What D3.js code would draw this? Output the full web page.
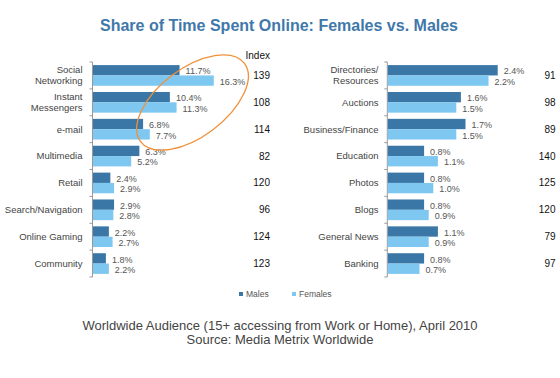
<!DOCTYPE html>
<html>
<head>
<meta charset="utf-8">
<script src="https://cdn.jsdelivr.net/npm/d3@7/dist/d3.min.js"></script>
<style>
body{margin:0;background:#fff;}
svg{display:block;font-family:"Liberation Sans",Arial,sans-serif;}
</style>
</head>
<body>
<svg id="chart" width="560" height="378"></svg>
<script>
const leftCategories = ["Social\nNetworking","Instant\nMessengers","e-mail","Multimedia","Retail","Search/Navigation","Online Gaming","Community"];
const leftMales   = [11.7,10.4,6.8,6.3,2.4,2.9,2.2,1.8];
const leftFemales = [16.3,11.3,7.7,5.2,2.9,2.8,2.7,2.2];
const leftIndex   = [139,108,114,82,120,96,124,123];

const rightCategories = ["Directories/\nResources","Auctions","Business/Finance","Education","Photos","Blogs","General News","Banking"];
const rightMales   = [2.4,1.6,1.7,0.8,0.8,0.8,1.1,0.8];
const rightFemales = [2.2,1.5,1.5,1.1,1.0,0.9,0.9,0.7];
const rightIndex   = [91,98,89,140,125,120,79,97];

const seriesNames = ["Males","Females"];
const colors = {Males:"#3a77a6", Females:"#7ec7f1"};

const svg = d3.select("#chart");

svg.append("text").attr("x",279).attr("y",31).attr("text-anchor","middle")
  .attr("font-size",16).attr("font-weight","bold").attr("fill","#3f78aa")
  .text("Share of Time Spent Online: Females vs. Males");

function panel(cats, males, females, idx, cfg){
  const rows = cats.map((c,i)=>({cat:c, Males:males[i], Females:females[i], index:idx[i]}));
  const y = d3.scaleBand().domain(cats).range([62,277]).paddingInner(0).paddingOuter(0);
  const ys = d3.scaleBand().domain(seriesNames).range([0,y.bandwidth()]).paddingInner(0).paddingOuter(0.3);
  const x = d3.scaleLinear().domain([0,cfg.max]).range([cfg.x0, cfg.x0 + cfg.pxPer*cfg.max]);
  const g = svg.append("g");

  // axis line and ticks at band boundaries
  g.append("line").attr("x1",cfg.x0).attr("x2",cfg.x0).attr("y1",y.range()[0]).attr("y2",y.range()[1])
    .attr("stroke","#999").attr("stroke-width",1);
  const bounds = cats.map(c=>y(c)).concat([y.range()[1]]);
  g.selectAll(".tick").data(bounds).join("line")
    .attr("x1",cfg.x0-3).attr("x2",cfg.x0).attr("y1",d=>d).attr("y2",d=>d)
    .attr("stroke","#999").attr("stroke-width",1);

  const grp = g.selectAll(".grp").data(rows).join("g").attr("transform",d=>`translate(0,${y(d.cat)})`);
  seriesNames.forEach(s=>{
    grp.append("rect").attr("x",cfg.x0+0.5).attr("y",ys(s)).attr("height",ys.bandwidth())
      .attr("width",d=>x(d[s])-cfg.x0-0.5).attr("fill",colors[s]);
    grp.append("text").attr("x",d=>x(d[s])+6).attr("y",ys(s)+ys.bandwidth()/2+1).attr("dy","0.35em")
      .attr("font-size",9).attr("fill","#555").text(d=>d[s].toFixed(1)+"%");
  });
  // index values
  grp.append("text").attr("x",cfg.idxX).attr("y",y.bandwidth()/2).attr("dy","0.35em")
    .attr("text-anchor","end").attr("font-size",10).attr("fill","#111").text(d=>d.index);
  // category labels
  grp.each(function(d){
    const lines = d.cat.split("\n");
    const t = d3.select(this).append("text").attr("text-anchor","end").attr("font-size",9.5).attr("fill","#444");
    lines.forEach((ln,i)=>{
      t.append("tspan").attr("x",cfg.labelX).attr("y",y.bandwidth()/2 + (i-(lines.length-1)/2)*11).attr("dy","0.35em").text(ln);
    });
  });
}

panel(leftCategories,leftMales,leftFemales,leftIndex,{x0:92.5,pxPer:7.44,max:20,idxX:270,labelX:82.5});
panel(rightCategories,rightMales,rightFemales,rightIndex,{x0:387.3,pxPer:46,max:3,idxX:555.5,labelX:378.5});

svg.append("text").attr("x",270).attr("y",59).attr("text-anchor","end").attr("font-size",10).attr("fill","#111").text("Index");

// annotation ellipse
svg.append("ellipse").attr("cx",192.5).attr("cy",102.5).attr("rx",65).attr("ry",34)
  .attr("transform","rotate(-37,192.5,102.5)").attr("fill","none").attr("stroke","#f0913a").attr("stroke-width",1.3);

// legend
const leg = svg.append("g");
const legX = [239,292];
seriesNames.forEach((s,i)=>{
  leg.append("rect").attr("x",legX[i]).attr("y",292).attr("width",4).attr("height",4).attr("fill",colors[s]);
  leg.append("text").attr("x",legX[i]+7).attr("y",294).attr("dy","0.35em").attr("font-size",8.5).attr("fill","#555").text(s);
});

svg.append("text").attr("x",280).attr("y",325.5).attr("dy","0.35em").attr("text-anchor","middle").attr("font-size",13).attr("fill","#444")
  .text("Worldwide Audience (15+ accessing from Work or Home), April 2010");
svg.append("text").attr("x",280).attr("y",339.5).attr("dy","0.35em").attr("text-anchor","middle").attr("font-size",13).attr("fill","#444")
  .text("Source: Media Metrix Worldwide");
</script>
</body>
</html>
